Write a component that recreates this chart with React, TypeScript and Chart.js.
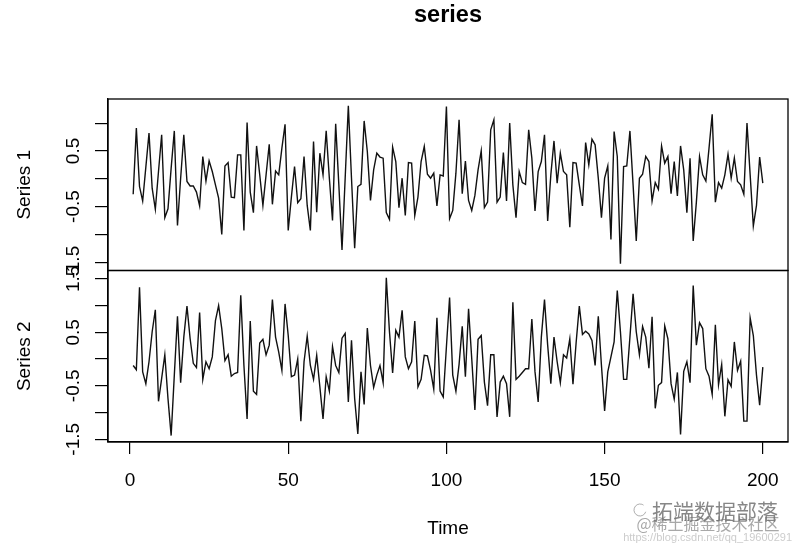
import React, { useEffect, useRef } from 'react';
import { Chart, registerables } from 'chart.js';

Chart.register(...registerables);

// ---- data ----
const TIME_START = 1;

const series1 = [
  -0.28, 0.91, -0.14, -0.40, 0.21, 0.82, -0.17, -0.55, 0.13, 0.79,
  -0.70, -0.54, 0.19, 0.86, -0.84, 0.01, 0.79, -0.05, -0.13, -0.13,
  -0.24, -0.49, 0.40, -0.04, 0.32, 0.13, -0.11, -0.35, -1.00, 0.23,
  0.29, -0.33, -0.34, 0.43, 0.43, -0.93, 1.01, -0.24, -0.61, 0.59,
  0.07, -0.48, 0.07, 0.62, -0.46, 0.14, 0.07, 0.55, 0.98, -0.93,
  -0.33, 0.22, -0.43, -0.36, 0.40, -0.48, -0.93, 0.67, -0.60, 0.46,
  0.07, 0.86, 0.01, -0.75, 0.99, -0.11, -1.28, 0.01, 1.31, 0.01,
  -1.25, -0.14, -0.10, 1.04, 0.49, -0.39, 0.16, 0.46, 0.39, 0.37,
  -0.61, -0.73, 0.57, 0.31, -0.52, 0.01, -0.66, 0.29, 0.28, -0.66,
  -0.33, 0.31, 0.58, 0.08, 0.01, 0.10, -0.49, 0.07, 0.05, 1.30,
  -0.72, -0.57, 0.10, 1.06, -0.27, 0.32, -0.39, -0.57, -0.30, 0.16,
  0.50, -0.52, -0.42, 0.88, 1.06, -0.42, -0.33, 0.47, -0.40, 1.00,
  -0.11, -0.70, 0.13, -0.07, -0.10, 0.88, 0.37, -0.58, 0.13, 0.31,
  0.79, -0.76, 0.07, 0.68, -0.08, 0.46, 0.13, 0.07, -0.87, 0.29,
  0.28, -0.11, -0.49, 0.65, 0.25, 0.71, 0.61, 0.01, -0.70, 0.01,
  0.23, -1.09, 0.85, 0.40, -1.53, 0.22, 0.23, 0.86, -0.11, -1.12,
  0.01, 0.08, 0.40, 0.31, -0.40, -0.07, -0.19, 0.59, 0.28, 0.40,
  -0.27, 0.31, -0.31, 0.59, 0.16, -0.61, 0.37, -1.12, -0.42, 0.40,
  0.07, -0.04, 0.55, 1.16, -0.42, -0.07, -0.17, 0.07, 0.44, 0.01,
  0.37, -0.05, -0.11, -0.28, 1.00, 0.07, -0.85, -0.48, 0.39, -0.08,
];

const series2 = [
  -0.12, -0.20, 1.34, -0.24, -0.46, -0.05, 0.51, 0.92, -0.79, -0.36,
  0.08, -0.74, -1.43, -0.30, 0.80, -0.44, 0.41, 0.99, 0.38, -0.08,
  -0.16, 0.87, -0.38, -0.05, -0.18, 0.04, 0.72, 1.00, 0.57, -0.03,
  0.08, -0.32, -0.27, -0.25, 1.19, -0.12, -1.12, 0.71, -0.60, -0.66,
  0.30, 0.37, 0.08, 0.26, 1.11, 0.41, 0.13, -0.21, 1.03, 0.44,
  -0.33, -0.30, 0.00, -1.16, -0.05, 0.43, -0.12, -0.38, 0.07, -0.52,
  -1.12, -0.33, -0.60, 0.23, -0.12, -0.25, 0.39, 0.48, -0.80, 0.35,
  -0.74, -1.40, -0.24, -0.85, 0.58, -0.12, -0.53, -0.30, -0.12, -0.44,
  1.52, 0.51, -0.26, 0.54, 0.41, 0.91, 0.04, -0.18, -0.05, 0.71,
  -0.52, -0.38, 0.07, 0.06, -0.21, -0.56, 0.77, -0.60, -0.71, 0.23,
  1.15, -0.30, -0.60, -0.10, 0.61, -0.33, 0.94, 0.01, -0.95, 0.37,
  0.44, -0.43, -0.87, 0.08, 0.08, -1.08, -0.43, -0.32, -0.46, -1.08,
  1.06, -0.38, -0.32, -0.25, -0.18, -0.18, 0.75, -0.24, -0.80, 0.41,
  1.11, 0.26, -0.46, 0.41, -0.05, -0.44, 0.08, 0.02, 0.38, -0.47,
  0.31, 0.99, 0.46, 0.52, 0.47, 0.35, -0.12, 0.80, -0.12, -0.97,
  -0.24, 0.04, 0.32, 1.28, 0.51, -0.38, -0.38, 0.41, 1.22, 0.51,
  0.08, 0.61, 0.41, -0.17, 0.79, -0.92, -0.49, -0.44, 0.62, 0.38,
  -0.46, -0.75, -0.25, -1.41, -0.23, -0.05, -0.44, 1.375, 0.26, 0.68,
  0.57, -0.18, -0.32, -0.66, 0.64, -0.48, -0.10, -1.07, -0.39, -0.51,
  0.32, -0.21, -0.04, -1.16, -1.16, 0.77, 0.44, -0.30, -0.86, -0.15,
];

const xTicks = [0, 50, 100, 150, 200];
const y1Ticks = [-1.5, -1.0, -0.5, 0, 0.5, 1.0];
const y2Ticks = [-1.5, -1.0, -0.5, 0, 0.5, 1.0, 1.5];
const y1TickLabels = ['0.5', '-0.5', '-1.5'];
const y2TickLabels = ['1.5', '0.5', '-0.5', '-1.5'];
const seriesNames = ['Series 1', 'Series 2'];
const chartTitle = 'series';
const xTitle = 'Time';
const watermark = ['拓端数据部落', '@稀土掘金技术社区', 'https://blog.csdn.net/qq_19600291'];

const X_RANGE = [-6.96, 207.96];
const Y1_RANGE = [-1.65, 1.434];
const Y2_RANGE = [-1.55, 1.655];

const FONT = '"Liberation Sans", Arimo, Helvetica, Arial, sans-serif';
const CJK = '"Noto Sans CJK SC", "Noto Sans", sans-serif';

const rPlugin = {
  id: 'rStyle',
  afterDraw(chart: any) {
    const { ctx, chartArea, scales } = chart;
    const left = chartArea.left;
    const right = chartArea.right;
    ctx.save();
    // panel boxes
    ctx.strokeStyle = '#000';
    ctx.lineWidth = 1.3;
    for (const id of ['y1', 'y2']) {
      const s = scales[id];
      ctx.strokeRect(left, s.top, right - left, s.bottom - s.top);
    }
    // title
    ctx.fillStyle = '#000';
    ctx.font = `bold 23.5px ${FONT}`;
    ctx.textAlign = 'center';
    ctx.textBaseline = 'alphabetic';
    ctx.fillText(chartTitle, (left + right) / 2, 21.5);

    const rot = (text: string, x: number, y: number, font: string) => {
      ctx.save();
      ctx.translate(x, y);
      ctx.rotate(-Math.PI / 2);
      ctx.font = font;
      ctx.textAlign = 'center';
      ctx.textBaseline = 'alphabetic';
      ctx.fillText(text, 0, 0);
      ctx.restore();
    };
    const panels = [
      { s: scales.y1, labels: y1TickLabels, name: seriesNames[0] },
      { s: scales.y2, labels: y2TickLabels, name: seriesNames[1] },
    ];
    for (const p of panels) {
      for (const lab of p.labels) {
        rot(lab, 78.5, p.s.getPixelForValue(parseFloat(lab)), `19px ${FONT}`);
      }
      rot(p.name, 30, (p.s.top + p.s.bottom) / 2, `19px ${FONT}`);
    }
    // watermark
    ctx.textAlign = 'center';
    ctx.fillStyle = 'rgba(95,95,95,0.75)';
    ctx.font = `21px ${CJK}`;
    ctx.fillText(watermark[0], 715, 519);
    ctx.fillStyle = 'rgba(110,110,110,0.6)';
    ctx.font = `16px ${CJK}`;
    ctx.fillText(watermark[1], 708, 530);
    ctx.fillStyle = 'rgba(170,170,170,0.6)';
    ctx.font = `11px ${FONT}`;
    ctx.textAlign = 'right';
    ctx.fillText(watermark[2], 792, 541);
    ctx.strokeStyle = 'rgba(120,120,120,0.6)';
    ctx.lineWidth = 1;
    ctx.beginPath();
    ctx.arc(640, 510, 6, 0.3, Math.PI * 1.7);
    ctx.stroke();
    ctx.restore();
  },
};

const yAxis = (range: number[], ticks: number[], weight: number) => ({
  type: 'linear',
  position: 'left',
  stack: 'panels',
  stackWeight: 1,
  weight,
  min: range[0],
  max: range[1],
  afterFit: (s: any) => {
    s.width = 108;
  },
  afterBuildTicks: (s: any) => {
    s.ticks = ticks.map((v) => ({ value: v }));
  },
  ticks: { display: false },
  grid: { drawOnChartArea: false, drawTicks: true, tickLength: 13, color: '#000', lineWidth: 1.2 },
  border: { display: true, color: '#000', width: 1.3 },
});

export default function App() {
  const ref = useRef<HTMLCanvasElement>(null);
  useEffect(() => {
    const canvas = ref.current;
    if (!canvas) return;
    const toPoints = (arr: number[]) => arr.map((v, i) => ({ x: TIME_START + i, y: v }));
    const chart = new Chart(canvas, {
      type: 'line',
      data: {
        datasets: [
          {
            label: seriesNames[0],
            data: toPoints(series1),
            yAxisID: 'y1',
            borderColor: '#111',
            borderWidth: 1.4,
            pointRadius: 0,
            tension: 0,
            fill: false,
          },
          {
            label: seriesNames[1],
            data: toPoints(series2),
            yAxisID: 'y2',
            borderColor: '#111',
            borderWidth: 1.4,
            pointRadius: 0,
            tension: 0,
            fill: false,
          },
        ],
      },
      options: {
        responsive: false,
        animation: false,
        devicePixelRatio: 1,
        layout: { padding: { top: 99, right: 12, left: 0, bottom: 0 } },
        plugins: {
          legend: { display: false },
          tooltip: { enabled: false },
          title: { display: false },
        },
        scales: {
          x: {
            type: 'linear',
            position: 'bottom',
            min: X_RANGE[0],
            max: X_RANGE[1],
            afterFit: (s: any) => {
              s.height = 104;
            },
            afterBuildTicks: (s: any) => {
              s.ticks = xTicks.map((v) => ({ value: v }));
            },
            ticks: {
              autoSkip: false,
              maxRotation: 0,
              color: '#000',
              font: { family: FONT, size: 19 },
              padding: 15.5,
            },
            grid: { drawOnChartArea: false, drawTicks: true, tickLength: 12, color: '#000', lineWidth: 1.2 },
            border: { display: true, color: '#000', width: 1.3 },
            title: {
              display: true,
              text: xTitle,
              color: '#000',
              font: { family: FONT, size: 19 },
              padding: { top: 0, bottom: 6 },
            },
          },
          y1: yAxis(Y1_RANGE, y1Ticks, 2),
          y2: yAxis(Y2_RANGE, y2Ticks, 1),
        },
      } as any,
      plugins: [rPlugin],
    });
    return () => chart.destroy();
  }, []);

  return (
    <div style={{ position: 'absolute', left: 0, top: 0, width: 800, height: 546, background: '#fff' }}>
      <canvas ref={ref} width={800} height={546} style={{ display: 'block', width: 800, height: 546 }} />
    </div>
  );
}
